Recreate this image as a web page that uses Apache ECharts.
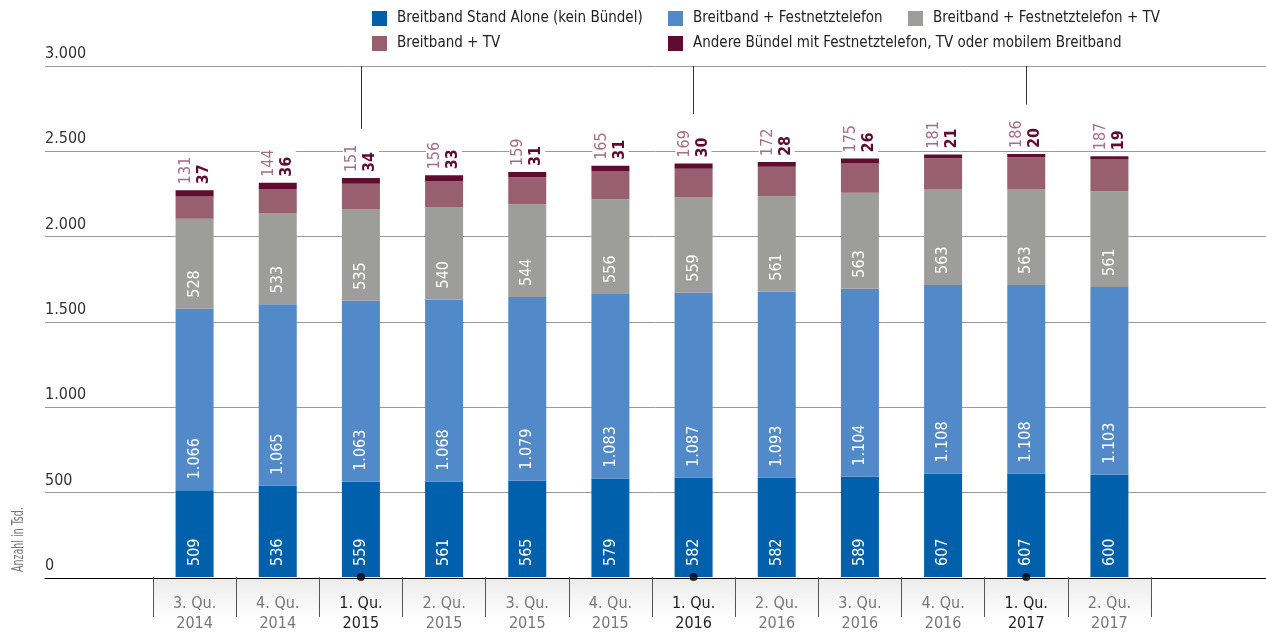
<!DOCTYPE html>
<html>
<head>
<meta charset="utf-8">
<script src="https://cdn.jsdelivr.net/npm/echarts@6/dist/echarts.min.js"></script>
<style>
  html, body { margin: 0; padding: 0; background: #fff; }
  #main { width: 1266px; height: 634px; }
</style>
</head>
<body>
<div id="main"></div>
<script>
// Quartale
var quarters = ['3. Qu.\n2014', '4. Qu.\n2014', '1. Qu.\n2015', '2. Qu.\n2015', '3. Qu.\n2015', '4. Qu.\n2015',
  '1. Qu.\n2016', '2. Qu.\n2016', '3. Qu.\n2016', '4. Qu.\n2016', '1. Qu.\n2017', '2. Qu.\n2017'];
// Anschlüsse in Tsd.
var standAlone = [509, 536, 559, 561, 565, 579, 582, 582, 589, 607, 607, 600];
var festnetz = [1066, 1065, 1063, 1068, 1079, 1083, 1087, 1093, 1104, 1108, 1108, 1103];
var festnetzTv = [528, 533, 535, 540, 544, 556, 559, 561, 563, 563, 563, 561];
var breitbandTv = [131, 144, 151, 156, 159, 165, 169, 172, 175, 181, 186, 187];
var andere = [37, 36, 34, 33, 31, 31, 30, 28, 26, 21, 20, 19];
var yTicks = [0, 500, 1000, 1500, 2000, 2500, 3000];

var names = ['Breitband Stand Alone (kein Bündel)', 'Breitband + Festnetztelefon',
  'Breitband + Festnetztelefon + TV', 'Breitband + TV',
  'Andere Bündel mit Festnetztelefon, TV oder mobilem Breitband'];
var colors = ['#0060ab', '#5289c9', '#9d9d9c', '#975f70', '#5f0c30'];
var FONT = "'Liberation Sans Narrow', 'DejaVu Sans Condensed', 'Roboto', sans-serif";

// Zahlen mit Tausenderpunkt
function fmt(v) {
  var s = String(v);
  return s.replace(/\B(?=(\d{3})+(?!\d))/g, '.');
}

var totals = standAlone.map(function (v, i) {
  return v + festnetz[i] + festnetzTv[i] + breitbandTv[i] + andere[i];
});

// Jahresanfänge hervorheben
var firstQ = [];
quarters.forEach(function (q, i) { if (q.indexOf('1. Qu.') === 0) firstQ.push(i); });

var myChart = echarts.init(document.getElementById('main'));

function innerLabel() {
  return {
    show: true,
    position: 'insideBottom',
    rotate: 90,
    align: 'left',
    verticalAlign: 'middle',
    distance: 11,
    color: '#fff',
    fontSize: 16,
    fontFamily: FONT,
    formatter: function (p) { return fmt(p.value); }
  };
}

var dataSeries = [standAlone, festnetz, festnetzTv, breitbandTv, andere].map(function (arr, k) {
  var s = {
    name: names[k],
    type: 'bar',
    stack: 'total',
    xAxisIndex: 1,
    yAxisIndex: 1,
    barWidth: 38,
    itemStyle: { color: colors[k] },
    data: arr
  };
  if (k < 3) s.label = innerLabel();
  if (k === 4) {
    s.label = {
      show: true,
      position: 'top',
      rotate: 90,
      align: 'left',
      verticalAlign: 'middle',
      distance: 6,
      backgroundColor: '#fff',
      padding: [0, 4, 0, 0],
      fontFamily: FONT,
      formatter: function (p) {
        return '{a|' + breitbandTv[p.dataIndex] + '}\n{b|' + p.value + '}';
      },
      rich: {
        a: { color: '#a56e82', fontSize: 16, lineHeight: 18, fontFamily: FONT },
        b: { color: '#5f0c30', fontSize: 16, lineHeight: 18, fontWeight: 'bold', fontFamily: FONT }
      }
    };
    s.markLine = {
      silent: true,
      symbol: 'none',
      label: { show: false },
      lineStyle: { color: '#333', type: 'solid', width: 1 },
      data: firstQ.map(function (i) {
        return [{ coord: [i, 3000] }, { coord: [i, totals[i] + 290] }];
      })
    };
  }
  return s;
});

function legendAt(left, items) {
  return {
    left: left, top: 11, padding: 0, orient: 'vertical',
    itemWidth: 15, itemHeight: 15, itemGap: 10,
    icon: 'rect', data: items,
    textStyle: { fontSize: 15, color: '#222', fontFamily: FONT, padding: [0, 0, 0, 5] }
  };
}

var option = {
  animation: false,
  textStyle: { fontFamily: FONT },
  legend: [
    legendAt(372, [names[0], names[3]]),
    legendAt(668, [names[1], names[4]]),
    legendAt(908, [names[2]])
  ],
  grid: [
    // Hintergrund mit Gitterlinien über die volle Breite
    { left: 45, right: 0, top: 66, bottom: 56 },
    // Balken
    { left: 153, right: 115, top: 66, bottom: 56 }
  ],
  xAxis: [
    {
      gridIndex: 0, type: 'value', min: 0, max: 1,
      axisLine: { show: true, onZero: false, lineStyle: { color: '#000', width: 1 } },
      axisTick: { show: false }, axisLabel: { show: false }, splitLine: { show: false }
    },
    {
      gridIndex: 1, type: 'category', data: quarters,
      axisLine: { show: false },
      axisTick: { show: true, length: 40, interval: 0, lineStyle: { color: '#555', width: 1 } },
      axisLabel: {
        interval: 0, margin: 17, fontSize: 16, lineHeight: 20, fontFamily: FONT,
        color: function (v) { return v.indexOf('1. Qu.') === 0 ? '#222' : '#777'; }
      }
    }
  ],
  yAxis: [
    {
      gridIndex: 0, type: 'value', min: 0, max: 3000, interval: 500,
      axisLine: { show: false }, axisTick: { show: false },
      splitLine: { show: true, lineStyle: { color: '#999', width: 1 } },
      axisLabel: {
        inside: true, margin: 0, verticalAlign: 'bottom', padding: [0, 0, 4, 0],
        fontSize: 16, color: '#333', fontFamily: FONT,
        formatter: function (v) { return yTicks.indexOf(v) >= 0 ? fmt(v) : ''; }
      }
    },
    {
      gridIndex: 1, type: 'value', min: 0, max: 3000, interval: 500, show: false
    }
  ],
  graphic: [
    {
      type: 'rect',
      left: 153, top: 579, z: -1,
      shape: { width: 998, height: 40 },
      style: {
        fill: new echarts.graphic.LinearGradient(0, 0, 0, 1, [
          { offset: 0, color: '#ececec' },
          { offset: 1, color: '#ffffff' }
        ])
      }
    },
    {
      type: 'text',
      x: 19, y: 572, rotation: Math.PI / 2, scaleX: 0.66,
      style: {
        text: 'Anzahl in Tsd.', fill: '#777', fontSize: 16, fontFamily: FONT,
        textAlign: 'left', textVerticalAlign: 'middle'
      }
    }
  ],
  series: dataSeries.concat([
    {
      type: 'scatter',
      xAxisIndex: 1,
      yAxisIndex: 1,
      symbolSize: 8,
      clip: false,
      z: 10,
      silent: true,
      itemStyle: { color: '#000' },
      data: firstQ.map(function (i) { return [i, 0]; })
    }
  ])
};

myChart.setOption(option);
</script>
</body>
</html>
